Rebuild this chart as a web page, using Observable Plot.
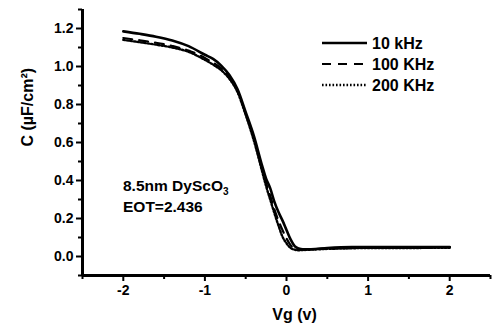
<!DOCTYPE html>
<html><head><meta charset="utf-8">
<script src="https://cdn.jsdelivr.net/npm/d3@7"></script>
<script src="https://cdn.jsdelivr.net/npm/@observablehq/plot@0.6"></script>
<style>body{margin:0;background:#fff} svg{display:block}</style>
</head><body><div id="chart"></div>
<script>
// Gate voltage samples (V)
const vg = [-2.0,-1.8,-1.6,-1.4,-1.2,-1.0,-0.9,-0.8,-0.7,-0.6,-0.5,-0.4,-0.3,-0.25,-0.2,-0.15,-0.1,-0.05,0.0,0.05,0.1,0.15,0.2,0.3,0.5,0.8,1.0,1.5,2.0];
// Capacitance (uF/cm^2) per frequency
const c10  = [1.185,1.172,1.157,1.137,1.107,1.062,1.04,1.005,0.955,0.88,0.76,0.635,0.48,0.41,0.36,0.29,0.235,0.19,0.14,0.09,0.055,0.042,0.038,0.038,0.045,0.05,0.05,0.05,0.05];
const c100 = [1.15,1.138,1.125,1.108,1.084,1.045,1.02,0.99,0.945,0.87,0.75,0.62,0.46,0.385,0.32,0.25,0.19,0.14,0.095,0.06,0.042,0.036,0.036,0.038,0.042,0.046,0.048,0.048,0.049];
const c200 = [1.14,1.128,1.115,1.10,1.077,1.035,1.01,0.98,0.935,0.865,0.745,0.61,0.45,0.37,0.30,0.23,0.165,0.105,0.07,0.045,0.036,0.033,0.034,0.036,0.04,0.043,0.045,0.045,0.046];
const seriesNames = ["10 kHz", "100 KHz", "200 KHz"];
const xTicks = [-2, -1, 0, 1, 2];
const xMinorTicks = [-2.5, -1.5, -0.5, 0.5, 1.5, 2.5];
const yTicks = [0.0, 0.2, 0.4, 0.6, 0.8, 1.0, 1.2];
const yMinorTicks = [-0.1, 0.1, 0.3, 0.5, 0.7, 0.9, 1.1, 1.3];
const xDomain = [-2.5, 2.5];
const yDomain = [-0.1, 1.3];
const xLabel = "Vg (v)";
const yLabel = "C (\u00b5F/cm\u00b2)";
const noteMain = "8.5nm DyScO";
const noteSub = "3";
const noteLine2 = "EOT=2.436";

// styles (kept separate from data)
const FONT = "'Liberation Sans', Arial, sans-serif";
const dashes = [null, "9,7", "1.6,1.9"];
const widths = [2.6, 2.2, 2.4];

const series = [c10, c100, c200];
const rows = series.flatMap((arr, s) => arr.map((c, i) => ({vg: vg[i], c, s: seriesNames[s]})));

function overlay(index, scales, values, dims) {
  const g = d3.create("svg:g").attr("font-family", FONT).attr("font-weight", "bold")
    .attr("fill", "#000").attr("text-anchor", "start");
  const x0 = dims.marginLeft, y0 = dims.marginTop;
  seriesNames.forEach((name, i) => {
    const y = y0 + 34 + i * 21;
    g.append("line").attr("x1", x0 + 240).attr("x2", x0 + 285).attr("y1", y).attr("y2", y)
      .attr("stroke", "#000").attr("stroke-width", widths[i]).attr("stroke-dasharray", dashes[i]);
    g.append("text").attr("x", x0 + 290).attr("y", y).attr("dy", "0.36em").attr("font-size", 16).text(name);
  });
  const t1 = g.append("text").attr("x", x0 + 41).attr("y", y0 + 182).attr("font-size", 15.5);
  t1.append("tspan").text(noteMain);
  t1.append("tspan").attr("font-size", 10).attr("dy", 4).text(noteSub);
  g.append("text").attr("x", x0 + 41).attr("y", y0 + 203).attr("font-size", 15.5).text(noteLine2);
  return g.node();
}

const chart = Plot.plot({
  width: 495, height: 327,
  marginLeft: 82, marginRight: 5, marginTop: 9, marginBottom: 52,
  style: {fontFamily: FONT, fontWeight: "bold", background: "#fff", color: "#000"},
  x: {domain: xDomain},
  y: {domain: yDomain},
  marks: [
    Plot.axisX(xTicks, {tickSize: 6, tickPadding: 4, strokeWidth: 2, fontSize: 14, tickFormat: d => String(d), label: null}),
    Plot.axisX(xMinorTicks, {tickSize: 4, strokeWidth: 2, tickFormat: () => "", label: null}),
    Plot.axisY(yTicks, {tickSize: 6, tickPadding: 3, strokeWidth: 2, fontSize: 14, tickFormat: d3.format(".1f"), label: null}),
    Plot.axisY(yMinorTicks, {tickSize: 4, strokeWidth: 2, tickFormat: () => "", label: null}),
    Plot.ruleX([xDomain[0]], {strokeWidth: 3}),
    Plot.ruleY([yDomain[0]], {strokeWidth: 3}),
    ...seriesNames.map((name, i) => Plot.line(rows.filter(d => d.s === name), {
      x: "vg", y: "c", curve: "monotone-x", stroke: "#000",
      strokeWidth: widths[i], strokeDasharray: dashes[i]
    })),
    Plot.text([xLabel], {frameAnchor: "bottom", dx: 8, dy: 39, fontSize: 16, fontWeight: "bold", lineAnchor: "middle"}),
    Plot.text([yLabel], {frameAnchor: "left", rotate: -90, dx: -55, dy: 4, fontSize: 16, fontWeight: "bold", lineAnchor: "middle"}),
    overlay
  ]
});
document.getElementById("chart").appendChild(chart);
</script></body></html>
